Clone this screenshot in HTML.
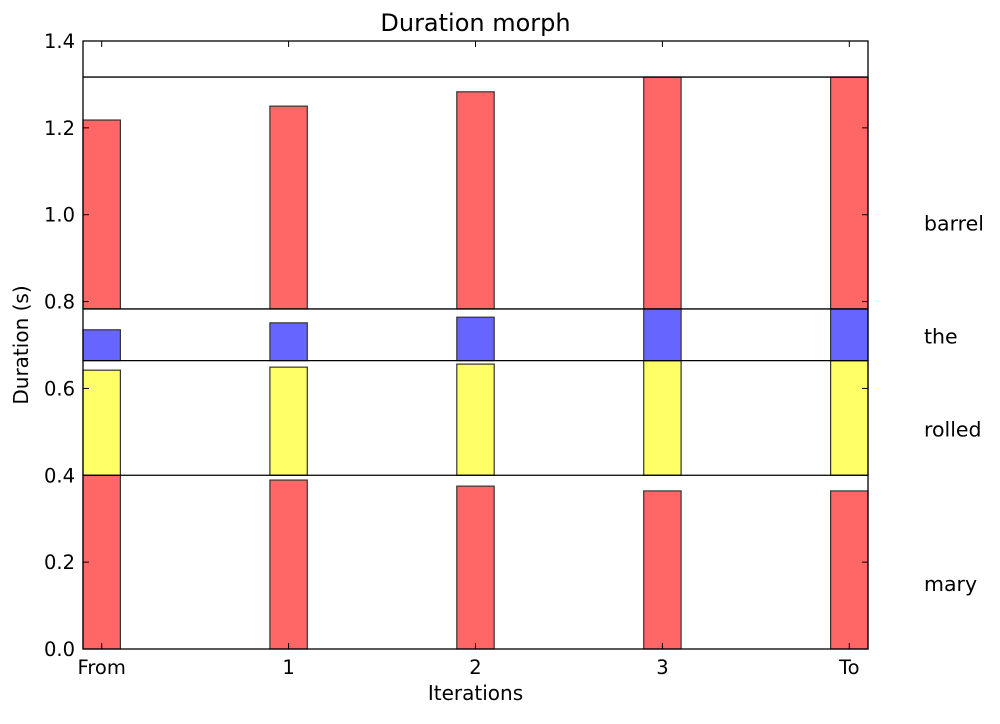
<!DOCTYPE html>
<html><head><meta charset="utf-8"><style>
body{margin:0;background:#fff;}
svg text{font-family:"DejaVu Sans","Liberation Sans",sans-serif;fill:#000;}
</style></head><body>
<svg id="chart" width="1000" height="719" xmlns="http://www.w3.org/2000/svg"></svg>
<script>
const iterations = ["From","1","2","3","To"];
const words = ["mary","rolled","the","barrel"];
const maryDur = [0.40,0.389,0.375,0.364,0.364];
const rolledDur = [0.242,0.249,0.256,0.264,0.264];
const theDur = [0.071,0.087,0.100,0.119,0.119];
const barrelDur = [0.435,0.467,0.500,0.534,0.534];
const bandBounds = [0,0.40,0.664,0.783,1.317];
const labelPos = [0.15,0.505,0.72,0.98];
const yTicks = [0.0,0.2,0.4,0.6,0.8,1.0,1.2,1.4];
const colors = ["#ff6666","#ffff66","#6666ff","#ff6666"];

const svg = document.getElementById('chart');
const NS = "http://www.w3.org/2000/svg";
const L=83,R=868,T=41,B=649;
const xs = v => L + (v/4.2)*(R-L);
const ys = v => B - (v/1.4)*(B-T);
function mk(tag, attrs, parent){const e=document.createElementNS(NS,tag);for(const k in attrs)e.setAttribute(k,attrs[k]);(parent||svg).appendChild(e);return e;}

const series=[maryDur,rolledDur,theDur,barrelDur];
series.forEach((s,wi)=>{
  s.forEach((d,i)=>{
    const base=bandBounds[wi];
    const r=mk('rect',{x:xs(i),y:ys(base+d),width:xs(i+0.2)-xs(i),height:ys(base)-ys(base+d),fill:colors[wi],stroke:"#333","stroke-width":1.2});
    
    
  });
});
bandBounds.slice(1).forEach((b,i)=>{
  const l=mk('line',{x1:L,x2:R,y1:ys(b),y2:ys(b),stroke:"#000","stroke-width":1.3});
  
  
});
const frame=mk('rect',{x:L,y:T,width:R-L,height:B-T,fill:"none",stroke:"#000","stroke-width":1.3});


yTicks.forEach(v=>{
  const y=ys(v);
  mk('line',{x1:L,x2:L+6,y1:y,y2:y,stroke:"#000"});
  mk('line',{x1:R,x2:R-6,y1:y,y2:y,stroke:"#000"});
  const t=mk('text',{x:L-8,y:y+7,"text-anchor":"end","font-size":19.5});
  t.textContent=v.toFixed(1);
  
  
});
iterations.forEach((lab,i)=>{
  const x=xs(i+0.1);
  mk('line',{x1:x,x2:x,y1:B,y2:B-6,stroke:"#000"});
  mk('line',{x1:x,x2:x,y1:T,y2:T+6,stroke:"#000"});
  const t=mk('text',{x:x,y:B+25,"text-anchor":"middle","font-size":19.5});
  t.textContent=lab;
  
  
});
words.forEach((w,i)=>{
  const t=mk('text',{x:924,y:ys(labelPos[i])+7,"font-size":20.5});
  t.textContent=w;
  
  
});
let t=mk('text',{x:(L+R)/2,y:31,"text-anchor":"middle","font-size":24});
t.textContent="Duration morph";


t=mk('text',{x:(L+R)/2,y:700,"text-anchor":"middle","font-size":20});
t.textContent="Iterations";


t=mk('text',{x:28,y:(T+B)/2,"text-anchor":"middle","font-size":20,transform:"rotate(-90 28 "+((T+B)/2)+")"});
t.textContent="Duration (s)";


</script>
</body></html>
